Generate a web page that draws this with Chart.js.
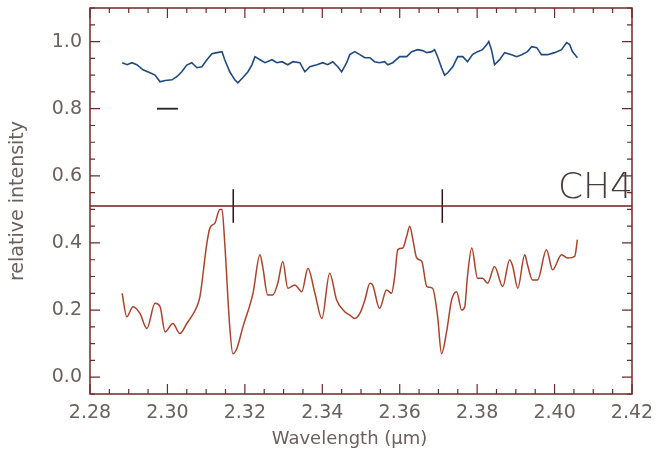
<!DOCTYPE html>
<html>
<head>
<meta charset="utf-8">
<script src="https://cdn.jsdelivr.net/npm/chart.js@4"></script>
<style>
  html, body { margin: 0; padding: 0; background: #fff; }
  canvas { display: block; }
</style>
</head>
<body>
<canvas id="spectrum" width="656" height="453"></canvas>
<script>
// tick labels
const xTicks = [2.28, 2.30, 2.32, 2.34, 2.36, 2.38, 2.40, 2.42]
const yTicks = [0.0, 0.2, 0.4, 0.6, 0.8, 1.0]

// upper spectrum (blue)
const blueWave = [2.2883, 2.2896, 2.2908, 2.2921, 2.2937, 2.2955, 2.2968, 2.2981, 2.2994, 2.3012,
  2.3025, 2.3037, 2.3050, 2.3063, 2.3076, 2.3089, 2.3102, 2.3115, 2.3128, 2.3141,
  2.3148, 2.3161, 2.3174, 2.3182, 2.3195, 2.3208, 2.3218, 2.3226, 2.3239, 2.3252,
  2.3270, 2.3283, 2.3296, 2.3311, 2.3324, 2.3342, 2.3355, 2.3368, 2.3386, 2.3401,
  2.3414, 2.3427, 2.3440, 2.3450, 2.3463, 2.3471, 2.3484, 2.3497, 2.3510, 2.3523,
  2.3535, 2.3548, 2.3561, 2.3569, 2.3582, 2.3600, 2.3618, 2.3631, 2.3646, 2.3659,
  2.3670, 2.3683, 2.3690, 2.3698, 2.3708, 2.3716, 2.3724, 2.3737, 2.3750, 2.3763,
  2.3775, 2.3788, 2.3801, 2.3814, 2.3825, 2.3830, 2.3837, 2.3845, 2.3858, 2.3871,
  2.3889, 2.3902, 2.3915, 2.3930, 2.3941, 2.3954, 2.3966, 2.3982, 2.4000, 2.4018,
  2.4031, 2.4039, 2.4046, 2.4059]
const blueFlux = [0.937, 0.931, 0.937, 0.931, 0.916, 0.907, 0.900, 0.880, 0.884, 0.886,
  0.896, 0.910, 0.930, 0.937, 0.922, 0.925, 0.946, 0.964, 0.967, 0.970,
  0.946, 0.910, 0.886, 0.877, 0.893, 0.910, 0.930, 0.955, 0.946, 0.937,
  0.946, 0.937, 0.940, 0.931, 0.940, 0.937, 0.910, 0.925, 0.931, 0.937,
  0.931, 0.940, 0.925, 0.910, 0.937, 0.961, 0.970, 0.961, 0.952, 0.952,
  0.940, 0.937, 0.940, 0.931, 0.937, 0.955, 0.955, 0.970, 0.976, 0.973,
  0.967, 0.970, 0.976, 0.955, 0.922, 0.900, 0.907, 0.925, 0.955, 0.955,
  0.940, 0.961, 0.970, 0.976, 0.991, 1.000, 0.976, 0.931, 0.946, 0.967,
  0.961, 0.955, 0.961, 0.970, 0.985, 0.982, 0.961, 0.961, 0.967, 0.976,
  0.997, 0.991, 0.970, 0.952]

// lower spectrum (red)
const redWave = [2.2883, 2.2895, 2.2911, 2.2929, 2.2947, 2.2968, 2.2981, 2.2994, 2.3014, 2.3032,
  2.3050, 2.3076, 2.3084, 2.3102, 2.3110, 2.3123, 2.3135, 2.3141, 2.3148, 2.3161,
  2.3169, 2.3179, 2.3195, 2.3221, 2.3239, 2.3246, 2.3259, 2.3272, 2.3285, 2.3298,
  2.3311, 2.3329, 2.3347, 2.3363, 2.3381, 2.3399, 2.3419, 2.3437, 2.3458, 2.3471,
  2.3484, 2.3497, 2.3510, 2.3523, 2.3530, 2.3548, 2.3566, 2.3579, 2.3587, 2.3595,
  2.3608, 2.3618, 2.3626, 2.3634, 2.3644, 2.3657, 2.3670, 2.3685, 2.3698, 2.3708,
  2.3721, 2.3734, 2.3747, 2.3760, 2.3768, 2.3775, 2.3786, 2.3801, 2.3814, 2.3827,
  2.3845, 2.3866, 2.3884, 2.3892, 2.3905, 2.3923, 2.3930, 2.3943, 2.3956, 2.3979,
  2.3995, 2.4018, 2.4034, 2.4052, 2.4059]
const redFlux = [0.250, 0.180, 0.210, 0.190, 0.145, 0.220, 0.210, 0.135, 0.160, 0.130,
  0.160, 0.210, 0.240, 0.400, 0.445, 0.460, 0.500, 0.500, 0.400, 0.150,
  0.070, 0.085, 0.150, 0.250, 0.365, 0.330, 0.245, 0.245, 0.280, 0.345,
  0.265, 0.275, 0.255, 0.325, 0.250, 0.175, 0.310, 0.230, 0.195, 0.185,
  0.175, 0.190, 0.230, 0.280, 0.275, 0.205, 0.260, 0.250, 0.300, 0.380,
  0.385, 0.420, 0.450, 0.410, 0.355, 0.345, 0.270, 0.265, 0.180, 0.070,
  0.135, 0.230, 0.255, 0.200, 0.210, 0.300, 0.385, 0.295, 0.295, 0.280,
  0.330, 0.270, 0.350, 0.330, 0.265, 0.365, 0.335, 0.290, 0.290, 0.380,
  0.320, 0.365, 0.355, 0.360, 0.410]

// CH4 band marker
const ch4Level = 0.51
const ch4Lines = [2.317, 2.371]
const ch4Half = 0.05
// resolution bar
const resBar = [2.2973, 2.3027]
const resLevel = 0.80

const axisColor = "#6e2a2a"
const textColor = "#6a6060"
const fontFamily = "'DejaVu Sans', sans-serif"

const toPoints = (xs, ys) => xs.map((x, i) => ({ x: x, y: ys[i] }))

const datasets = [
  {
    data: toPoints(blueWave, blueFlux),
    borderColor: "#1f4a80",
    borderWidth: 1.6,
    tension: 0,
  },
  {
    data: toPoints(redWave, redFlux),
    borderColor: "#a8442c",
    borderWidth: 1.5,
    cubicInterpolationMode: "monotone",
  },
  {
    data: [{ x: xTicks[0], y: ch4Level }, { x: xTicks[xTicks.length - 1], y: ch4Level }],
    borderColor: "#6a2020",
    borderWidth: 1.5,
  },
  {
    data: [{ x: resBar[0], y: resLevel }, { x: resBar[1], y: resLevel }],
    borderColor: "#222222",
    borderWidth: 1.8,
  },
]
ch4Lines.forEach((w) => {
  datasets.push({
    data: [{ x: w, y: ch4Level - ch4Half }, { x: w, y: ch4Level + ch4Half }],
    borderColor: "#2a1414",
    borderWidth: 1.5,
  })
})

// box round the plot with inward ticks, plus the CH4 label
const frame = {
  id: "frame",
  afterDatasetsDraw(chart) {
    const { ctx, chartArea: a, scales } = chart
    const x = scales.x
    const y = scales.y
    ctx.save()
    ctx.strokeStyle = axisColor
    ctx.lineWidth = 1.5
    ctx.strokeRect(a.left, a.top, a.right - a.left, a.bottom - a.top)
    ctx.lineWidth = 1.2
    ctx.beginPath()
    for (let i = 0; i <= 28; i++) {
      const px = x.getPixelForValue(2.28 + i * 0.005)
      const len = i % 4 === 0 ? 10 : 5
      ctx.moveTo(px, a.bottom); ctx.lineTo(px, a.bottom - len)
      ctx.moveTo(px, a.top); ctx.lineTo(px, a.top + len)
    }
    for (let i = 0; i <= 23; i++) {
      const v = -0.05 + i * 0.05
      const py = y.getPixelForValue(v)
      const len = (i - 1) % 4 === 0 ? 10 : 5
      ctx.moveTo(a.left, py); ctx.lineTo(a.left + len, py)
      ctx.moveTo(a.right, py); ctx.lineTo(a.right - len, py)
    }
    ctx.stroke()

    ctx.fillStyle = "#4a3a3a"
    ctx.font = "200 36px " + fontFamily
    ctx.textAlign = "right"
    ctx.textBaseline = "alphabetic"
    ctx.fillText("CH4", a.right + 1, y.getPixelForValue(ch4Level) - 8)
    ctx.restore()
  },
}

new Chart(document.getElementById("spectrum"), {
  type: "line",
  data: { datasets: datasets },
  options: {
    responsive: false,
    animation: false,
    devicePixelRatio: 1,
    elements: { point: { radius: 0 } },
    layout: { padding: { top: 8, right: 24, left: 0, bottom: 0 } },
    plugins: {
      legend: { display: false },
      tooltip: { enabled: false },
    },
    scales: {
      x: {
        type: "linear",
        min: 2.28,
        max: 2.42,
        grid: { display: false, drawTicks: false },
        border: { display: false },
        afterBuildTicks: (scale) => {
          scale.ticks = xTicks.map((v) => ({ value: v }))
        },
        afterFit: (scale) => {
          scale.height = 59
          scale.paddingLeft = 0
          scale.paddingRight = 0
        },
        ticks: {
          padding: 8,
          color: textColor,
          font: { family: fontFamily, size: 19 },
          maxRotation: 0,
          callback: (v) => Number(v).toFixed(2),
        },
        title: {
          display: true,
          text: "Wavelength (μm)    ",
          color: textColor,
          font: { family: fontFamily, size: 18 },
          padding: { top: 0, bottom: 3 },
        },
      },
      y: {
        type: "linear",
        min: -0.05,
        max: 1.1,
        grid: { display: false, drawTicks: false },
        border: { display: false },
        afterBuildTicks: (scale) => {
          scale.ticks = yTicks.map((v) => ({ value: v }))
        },
        afterFit: (scale) => {
          scale.width = 90
          scale.paddingTop = 0
          scale.paddingBottom = 0
        },
        ticks: {
          padding: 8,
          color: textColor,
          font: { family: fontFamily, size: 19 },
          callback: (v) => Number(v).toFixed(1),
        },
        title: {
          display: true,
          text: "relative intensity",
          color: textColor,
          font: { family: fontFamily, size: 19 },
          padding: { top: 7, bottom: 0 },
        },
      },
    },
  },
  plugins: [frame],
})
</script>
</body>
</html>
